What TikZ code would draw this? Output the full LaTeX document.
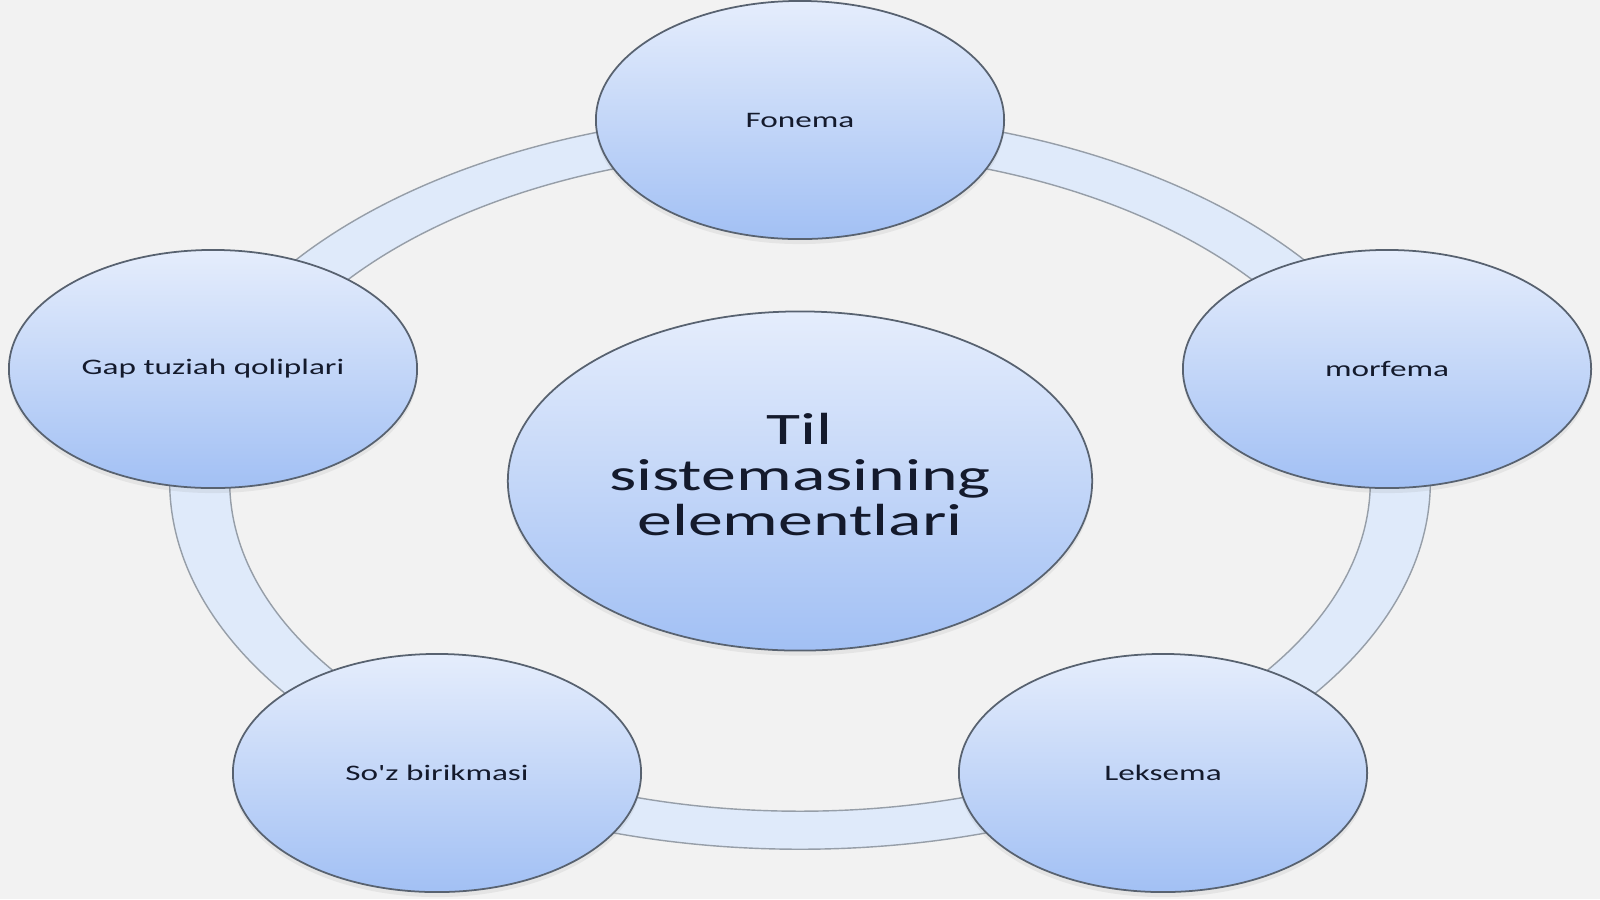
\documentclass[tikz,border=0pt]{standalone}
\usepackage{fontspec}
\setmainfont{Carlito}
\usepackage{graphicx}
\usetikzlibrary{shapes.geometric,shadows}

\definecolor{slidebg}{RGB}{242,242,242}
\definecolor{ringblue}{RGB}{223,234,250}
\definecolor{ringedge}{RGB}{150,158,168}
\definecolor{balltop}{RGB}{229,237,252}
\definecolor{ballmiddle}{RGB}{210,224,250}
\definecolor{ballbottom}{RGB}{162,192,244}
\definecolor{balledge}{RGB}{88,98,112}
\definecolor{inktext}{RGB}{20,26,44}

\newcommand{\wide}[2][1.5]{\scalebox{#1}[1]{#2}}

\tikzset{
	ball/.style={ellipse, draw=balledge, line width=0.5pt, top color=balltop, middle color=ballmiddle, bottom color=ballbottom, inner sep=0pt, text=inktext, drop shadow={shadow xshift=0pt, shadow yshift=-0.5mm, opacity=0.12}},
	small ball/.style={ball, minimum width=4.08cm, minimum height=2.38cm, font=\fontsize{6.3}{7.5}\selectfont},
	big ball/.style={ball, minimum width=5.84cm, minimum height=3.39cm, font=\fontsize{12.8}{12.9}\selectfont},
}

\begin{document}
\begin{tikzpicture}[x=0.01cm, y=-0.01cm]
			%%%%% START %%%%%
			
			\fill[slidebg] (0, 0) rectangle (1600, 899);
			\useasboundingbox (0, 0) rectangle (1600, 899);
			
			\draw[ringedge, line width=0.4pt, fill=ringblue, even odd rule] (800, 481) ellipse [x radius=6.3cm, y radius=3.68cm] (800, 481) ellipse [x radius=5.7cm, y radius=3.3cm];
			
			\node[big ball] (til) at (800, 481) {\wide[1.55]{\begin{tabular}{@{}c@{}}Til\\sistemasining\\elementlari\end{tabular}}};
			
			\node[small ball] (fonema) at (800, 120) {\wide{Fonema}};
			\node[small ball] (morfema) at (1387, 369) {\wide{morfema}};
			\node[small ball] (leksema) at (1163, 773) {\wide{Leksema}};
			\node[small ball] (birikma) at (437, 773) {\wide{So\textquotesingle z birikmasi}};
			\node[small ball] (gap) at (213, 369) {\wide{Gap tuziah qoliplari}};
			
			%%%%% END %%%%%
\end{tikzpicture}
\end{document}
